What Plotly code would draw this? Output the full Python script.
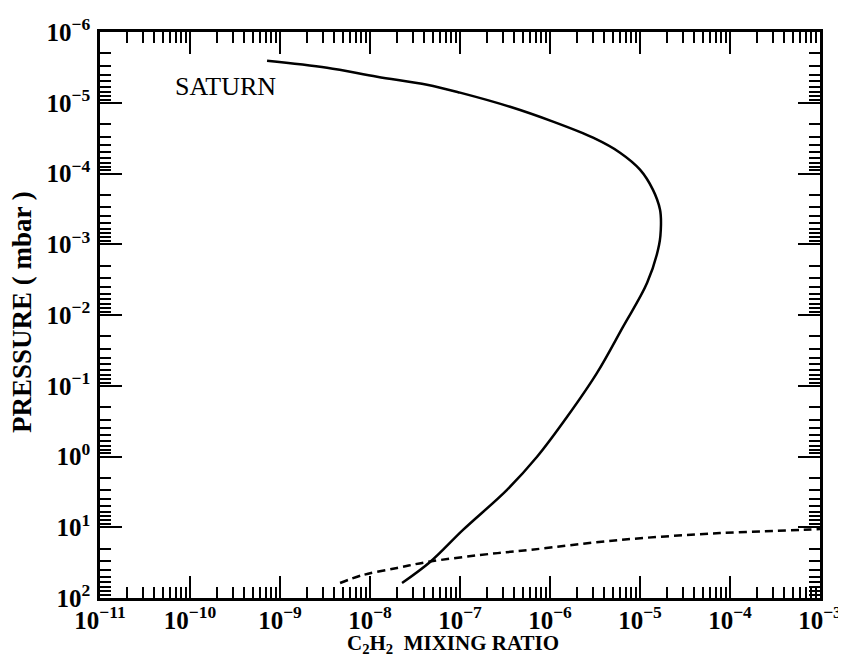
import plotly.graph_objects as go

# Solid curve: C2H2 mixing ratio vs pressure (mbar)
solid_x = [7.18e-10, 3.33e-9, 1.20e-8, 4.30e-8, 1.0e-7, 3.60e-7, 1.08e-6, 3.01e-6,
           6.0e-6, 1.0e-5, 1.39e-5, 1.67e-5, 1.71e-5, 1.63e-5, 1.20e-5, 6.47e-6,
           3.33e-6, 1.55e-6, 7.18e-7, 3.33e-7, 1.08e-7, 4.65e-8, 2.27e-8]
solid_p = [2.54e-6, 3.19e-6, 4.28e-6, 5.55e-6, 7.19e-6, 1.14e-5, 1.85e-5, 3.12e-5,
           5.08e-5, 8.83e-5, 1.69e-4, 3.25e-4, 5.30e-4, 1.02e-3, 3.51e-3, 1.47e-2,
           6.58e-2, 0.275, 1.01, 2.96, 10.9, 31.0, 61.4]

# Dashed curve
dash_x = [4.65e-9, 8.36e-9, 2.0e-8, 4.30e-8, 1.67e-7, 6.0e-7, 6.0e-6, 7.74e-5, 6.47e-4, 1.0e-3]
dash_p = [61.4, 47.3, 37.7, 31.0, 24.7, 20.9, 15.1, 12.1, 10.9, 10.6]

x_ticks = [1e-11, 1e-10, 1e-9, 1e-8, 1e-7, 1e-6, 1e-5, 1e-4, 1e-3]
x_ticktext = ["10<sup>\u221211</sup>", "10<sup>\u221210</sup>", "10<sup>\u22129</sup>",
              "10<sup>\u22128</sup>", "10<sup>\u22127</sup>", "10<sup>\u22126</sup>",
              "10<sup>\u22125</sup>", "10<sup>\u22124</sup>", "10<sup>\u22123</sup>"]
y_ticks = [1e-6, 1e-5, 1e-4, 1e-3, 1e-2, 1e-1, 1e0, 1e1, 1e2]
y_ticktext = ["10<sup>\u22126</sup>", "10<sup>\u22125</sup>", "10<sup>\u22124</sup>",
              "10<sup>\u22123</sup>", "10<sup>\u22122</sup>", "10<sup>\u22121</sup>",
              "10<sup>0</sup>", "10<sup>1</sup>", "10<sup>2</sup>"]

FONT = "Liberation Serif"

fig = go.Figure()
fig.add_trace(go.Scatter(x=solid_x, y=solid_p, mode="lines",
                         line=dict(color="black", width=2.5, shape="spline", smoothing=1.0),
                         showlegend=False, hoverinfo="skip"))
fig.add_trace(go.Scatter(x=dash_x, y=dash_p, mode="lines",
                         line=dict(color="black", width=2.5, dash="8px,5px", shape="spline", smoothing=1.0),
                         showlegend=False, hoverinfo="skip"))

axis_common = dict(
    type="log", showgrid=False, zeroline=False, automargin=False,
    showline=True, linecolor="black", linewidth=2.5, mirror="allticks",
    ticks="inside", ticklen=22, tickwidth=2, tickcolor="black",
    tickfont=dict(family=FONT, size=25, color="black", weight="bold"),
    ticklabeloverflow="allow",
    minor=dict(ticks="inside", ticklen=11, tickwidth=1.5, tickcolor="black",
               dtick="D1", showgrid=False),
)

fig.update_xaxes(range=[-11, -3], tickmode="array", tickvals=x_ticks, ticktext=x_ticktext,
                 ticklabelstandoff=-2, **axis_common)
fig.update_yaxes(range=[2, -6], tickmode="array", tickvals=y_ticks, ticktext=y_ticktext,
                 ticklabelstandoff=2, **axis_common)

# page body adds an 8px offset; figure sized to fill the rest of the window
W, H = 838, 649
L, T = 92, 24
R = W - (820 - 8)
B = H - (598 - 8)
PW, PH = W - L - R, H - T - B

fig.update_layout(
    width=W, height=H,
    margin=dict(l=L, r=R, t=T, b=B),
    paper_bgcolor="white", plot_bgcolor="white",
    font=dict(family=FONT, color="black"),
    annotations=[
        dict(text="SATURN", xref="paper", yref="paper", x=(173 - 100) / PW, y=1 - (86 - 32) / PH,
             xanchor="left", yanchor="middle", showarrow=False,
             font=dict(family=FONT, size=26, color="black")),
        dict(text="C<sub>2</sub>H<sub>2</sub>  MIXING RATIO", xref="paper", yref="paper",
             x=(453 - 100) / PW, y=-(644 - 598) / PH, xanchor="center", yanchor="middle",
             showarrow=False, font=dict(family=FONT, size=21, color="black", weight="bold")),
        dict(text="PRESSURE ( mbar )", xref="paper", yref="paper",
             x=-(100 - 22) / PW, y=1 - (312 - 32) / PH, xanchor="center", yanchor="middle",
             textangle=-90, showarrow=False,
             font=dict(family=FONT, size=27, color="black", weight="bold")),
    ],
)

fig.write_html("out.html")
